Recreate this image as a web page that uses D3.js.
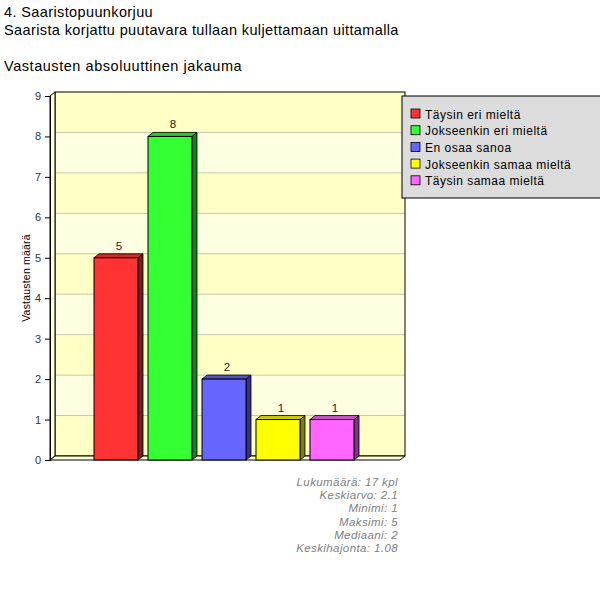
<!DOCTYPE html>
<html>
<head>
<meta charset="utf-8">
<script src="https://cdn.jsdelivr.net/npm/d3@7"></script>
<style>
  body { margin: 0; background: #fff; }
  svg { display: block; font-family: "Liberation Sans", Arial, sans-serif; }
</style>
</head>
<body>
<div id="chart"></div>
<script>
// data
const titleLines = ["4. Saaristopuunkorjuu", "Saarista korjattu puutavara tullaan kuljettamaan uittamalla"];
const subtitle = "Vastausten absoluuttinen jakauma";
const categories = ["Täysin eri mieltä", "Jokseenkin eri mieltä", "En osaa sanoa", "Jokseenkin samaa mieltä", "Täysin samaa mieltä"];
const counts = [5, 8, 2, 1, 1];
const frontColors = ["#ff3333", "#33ff33", "#6666ff", "#ffff00", "#ff66ff"];
const sideColors = ["#7f1a1a", "#1a7f1a", "#33337f", "#7f7f00", "#7f337f"];
const topColors = ["#cc2929", "#29cc29", "#5252cc", "#cccc00", "#cc52cc"];
const yTicks = [0, 1, 2, 3, 4, 5, 6, 7, 8, 9];
const statLabels = ["Lukumäärä", "Keskiarvo", "Minimi", "Maksimi", "Mediaani", "Keskihajonta"];
const statValues = ["17 kpl", "2.1", "1", "5", "2", "1.08"];

const W = 600, H = 596;
const dx = 5, dy = -4;
const svg = d3.select("#chart").append("svg").attr("width", W).attr("height", H);

// titles
svg.selectAll(".title").data(titleLines).enter().append("text")
  .attr("x", 4).attr("y", (d, i) => 17 + i * 18)
  .attr("font-size", 14.5).attr("letter-spacing", 0.38).attr("fill", "#000").text(d => d);
svg.append("text").attr("x", 4).attr("y", 71)
  .attr("font-size", 14.5).attr("letter-spacing", 0.55).attr("fill", "#000").text(subtitle);

// scales
const y = d3.scaleLinear().domain([0, 9]).range([460, 96]);
const x = d3.scaleBand().domain(categories).range([94, 354]).paddingInner(0.185).paddingOuter(0);
const left = 50, right = 400;

// back wall with stripes
const wall = svg.append("g").attr("transform", `translate(${dx},${dy})`);
wall.selectAll(".band").data(yTicks.slice(0, -1)).enter().append("rect")
  .attr("x", left).attr("width", right - left)
  .attr("y", d => y(d + 1)).attr("height", d => y(d) - y(d + 1))
  .attr("fill", d => d % 2 === 0 ? "#ffffc6" : "#ffffe2");
wall.selectAll(".grid").data(yTicks.slice(1, -1)).enter().append("line")
  .attr("x1", left).attr("x2", right)
  .attr("y1", d => y(d)).attr("y2", d => y(d))
  .attr("stroke", "#c8c8a8").attr("stroke-width", 1);
wall.append("rect").attr("x", left).attr("y", y(9)).attr("width", right - left).attr("height", y(0) - y(9))
  .attr("fill", "none").attr("stroke", "#000");

// left wall and floor
svg.append("polygon")
  .attr("points", [[left, y(0)], [left, y(9)], [left + dx, y(9) + dy], [left + dx, y(0) + dy]].join(" "))
  .attr("fill", "#ffffd8").attr("stroke", "#000");
svg.append("polygon")
  .attr("points", [[left, y(0)], [right, y(0)], [right + dx, y(0) + dy], [left + dx, y(0) + dy]].join(" "))
  .attr("fill", "#ffffd0").attr("stroke", "#000");

// bars
const bars = svg.selectAll(".bar").data(categories).enter().append("g");
bars.append("polygon")
  .attr("points", (d, i) => {
    const x0 = x(d) + x.bandwidth(), yt = y(counts[i]), yb = y(0);
    return [[x0, yt], [x0 + dx, yt + dy], [x0 + dx, yb + dy], [x0, yb]].join(" ");
  })
  .attr("fill", (d, i) => sideColors[i]).attr("stroke", "#000").attr("stroke-width", 0.8);
bars.append("polygon")
  .attr("points", (d, i) => {
    const x0 = x(d), x1 = x0 + x.bandwidth(), yt = y(counts[i]);
    return [[x0, yt], [x0 + dx, yt + dy], [x1 + dx, yt + dy], [x1, yt]].join(" ");
  })
  .attr("fill", (d, i) => topColors[i]).attr("stroke", "#000").attr("stroke-width", 0.8);
bars.append("rect")
  .attr("x", d => x(d)).attr("width", x.bandwidth())
  .attr("y", (d, i) => y(counts[i])).attr("height", (d, i) => y(0) - y(counts[i]))
  .attr("fill", (d, i) => frontColors[i]).attr("stroke", "#000").attr("stroke-width", 1);
bars.append("text")
  .attr("x", d => x(d) + x.bandwidth() / 2 + 3)
  .attr("y", (d, i) => y(counts[i]) - 8)
  .attr("text-anchor", "middle").attr("font-size", 11.5).attr("fill", "#222")
  .text((d, i) => counts[i]);

// y axis
const yAxis = svg.append("g").attr("transform", `translate(${left},0)`)
  .call(d3.axisLeft(y).tickValues(yTicks).tickSize(5).tickPadding(4));
yAxis.select(".domain").attr("stroke", "#000");
yAxis.selectAll(".tick line").attr("stroke", "#000");
yAxis.selectAll(".tick text").attr("font-size", 11).attr("fill", "#333")
  .attr("font-family", "Liberation Sans, Arial, sans-serif");

svg.append("text")
  .attr("transform", `translate(30,${(y(0) + y(9)) / 2}) rotate(-90)`)
  .attr("text-anchor", "middle").attr("font-size", 10.5).attr("letter-spacing", 0.2).attr("fill", "#000")
  .text("Vastausten määrä");

// legend
const lg = svg.append("g").attr("transform", "translate(402,96)");
lg.append("rect").attr("x", 0).attr("y", 0).attr("width", 210).attr("height", 102)
  .attr("fill", "#dcdcdc").attr("stroke", "#000");
const li = lg.selectAll(".li").data(categories).enter().append("g")
  .attr("transform", (d, i) => `translate(9,${13 + i * 16.7})`);
li.append("rect").attr("width", 9).attr("height", 9)
  .attr("fill", (d, i) => frontColors[i]).attr("stroke", "#000").attr("stroke-width", 0.8);
li.append("text").attr("x", 14).attr("y", 9.5).attr("font-size", 12).attr("letter-spacing", 0.5)
  .attr("fill", "#000").text(d => d);

// stats
svg.selectAll(".stat").data(statLabels).enter().append("text")
  .attr("x", 398).attr("y", (d, i) => 486 + i * 13.2)
  .attr("text-anchor", "end").attr("font-size", 11.5).attr("font-style", "italic")
  .attr("letter-spacing", 0.4).attr("fill", "#808080")
  .text((d, i) => `${d}: ${statValues[i]}`);
</script>
</body>
</html>
